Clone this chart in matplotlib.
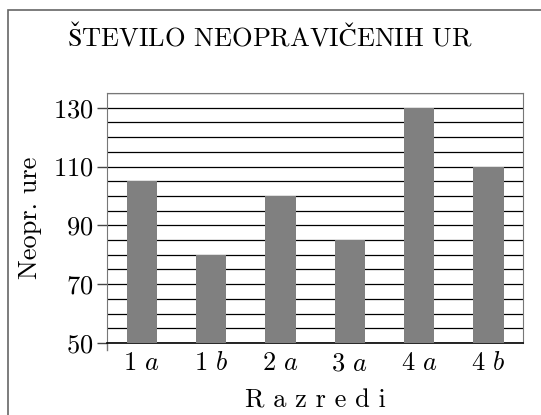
import matplotlib
matplotlib.use("Agg")
import matplotlib.pyplot as plt
from matplotlib.patches import Rectangle
from matplotlib.ticker import MultipleLocator

# podatki
razredi = ["1 $a$", "1 $b$", "2 $a$", "3 $a$", "4 $a$", "4 $b$"]
ure = [105, 80, 100, 85, 130, 110]

plt.rcParams["mathtext.fontset"] = "cm"
plt.rcParams["font.family"] = "serif"
plt.rcParams["font.serif"] = ["cmr10", "DejaVu Serif"]
plt.rcParams["axes.formatter.use_mathtext"] = True

fig = plt.figure(figsize=(5.41, 4.15), dpi=100)
ax = fig.add_axes([0.198, 0.1735, 0.769, 0.6025])

# okvir okoli slike (desni in spodnji rob sta odrezana)
fig.patches.append(Rectangle((8 / 541, -0.1), 1.2, 1.1 - 10 / 415,
                             transform=fig.transFigure, fill=False,
                             edgecolor="#666666", linewidth=1.2))

x = list(range(len(razredi)))
ax.bar(x, ure, width=0.44, color="#808080", zorder=3)

ax.set_xlim(-0.5, len(razredi) - 0.5)
ax.set_ylim(50, 135)
ax.yaxis.set_minor_locator(MultipleLocator(5))
ax.set_yticks([50, 70, 90, 110, 130])
ax.grid(which="both", axis="y", color="black", linewidth=0.9, zorder=1)
ax.set_axisbelow(True)

ax.set_xticks(x)
ax.set_xticklabels(razredi, fontsize=19)
ax.tick_params(axis="x", length=0, pad=6)
ax.tick_params(axis="y", which="major", length=7, width=1, labelsize=19,
               color="#444444", pad=3)
ax.tick_params(axis="y", which="minor", length=0)

for s in ["left", "top", "right"]:
    ax.spines[s].set_color("#777777")
ax.spines["bottom"].set_color("black")
ax.spines["bottom"].set_linewidth(1.2)

# kratka crta pod levo osjo
ax.plot([0, 0], [0, -0.03], transform=ax.transAxes, color="#777777",
        linewidth=1, clip_on=False)

ax.set_ylabel("Neopr. ure", fontsize=19, labelpad=8)
ax.set_xlabel("R a z r e d i", fontsize=19, labelpad=10)

fig.text(0.5, 0.913, r"$\mathrm{Š}$TEVILO NEOPRAVI$\mathrm{Č}$ENIH UR",
         ha="center", va="center", fontsize=19)

fig.savefig("out.png", dpi=100)
plt.close()
